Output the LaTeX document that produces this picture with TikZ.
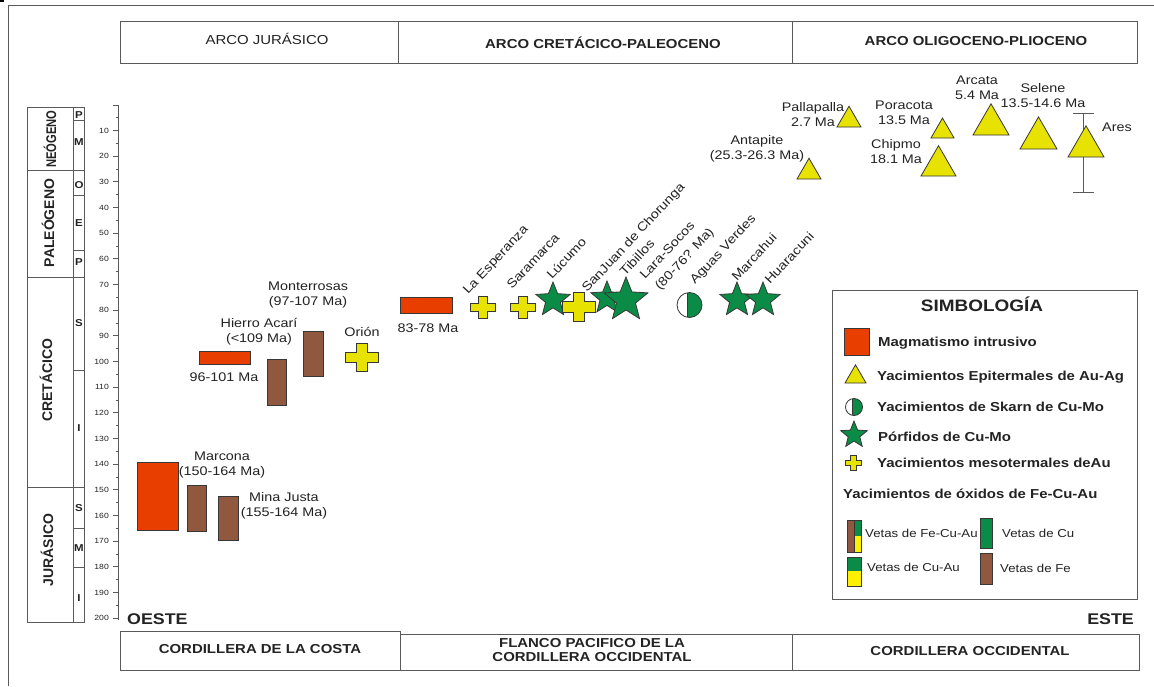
\documentclass[tikz,border=0pt]{standalone}
\usepackage{fontspec}
\setmainfont[FakeStretch=1.15]{Liberation Sans}
\newfontfamily\vertfont{Liberation Sans}
\newfontfamily\vertnarrow[FakeStretch=0.8]{Liberation Sans}
\usepackage{tikz}
\usetikzlibrary{shapes.geometric}
\usetikzlibrary{arrows.meta}
\usepackage{xcolor}

\definecolor{magred}{RGB}{232,62,0}
\definecolor{vetbrown}{RGB}{145,88,64}
\definecolor{epiyellow}{RGB}{232,226,0}
\definecolor{vetyellow}{RGB}{255,240,0}
\definecolor{porgreen}{RGB}{10,140,70}
\definecolor{edgegray}{RGB}{55,55,55}
\definecolor{framegray}{RGB}{90,90,90}
\definecolor{textgray}{RGB}{35,35,35}

\newcommand{\lblfont}{\fontsize{12.5}{15}\selectfont}
\newcommand{\cabfont}{\fontsize{13}{14}\selectfont}
\newcommand{\legfont}{\bfseries\fontsize{13}{15}\selectfont}
\newcommand{\vetfont}{\fontsize{11.5}{13}\selectfont}
\newcommand{\edadfont}{\fontsize{7.5}{9}\selectfont}
\newcommand{\perfont}{\bfseries\fontsize{14}{16}\selectfont}

\tikzset{
  borde/.style={draw=edgegray, line width=0.8pt},
  marco/.style={draw=framegray, line width=1pt},
  magma/.style={borde, fill=magred},
  vetafe/.style={borde, fill=vetbrown},
  epi/.style={regular polygon, regular polygon sides=3, borde, fill=epiyellow,
    inner sep=0pt, outer sep=0pt, anchor=south, minimum size=#1},
  porfido/.style={star, star points=5, star point ratio=2.3, borde, fill=porgreen,
    inner sep=0pt, outer sep=0pt, minimum size=#1},
  lbl/.style={text=textgray, font=\lblfont, align=center, inner sep=0pt},
  rotlbl/.style={text=textgray, font=\lblfont, inner sep=0pt, rotate=47, anchor=base west},
  cab/.style={text=textgray, inner sep=0pt, anchor=base, align=center},
  leyenda/.style={text=textgray, font=\legfont, inner sep=0pt, anchor=base west},
  veta/.style={text=textgray, font=\vetfont, inner sep=0pt, anchor=base west},
  escala/.style={text=textgray, font=\edadfont, inner sep=0pt, anchor=east},
  epoca/.style={text=textgray, font=\bfseries\fontsize{10}{11}\selectfont, inner sep=0pt},
  periodo/.style={text=textgray, inner sep=0pt, rotate=90},
  cruz/.pic={\draw[borde, fill=epiyellow] (-4.5,-11) -- (4.5,-11) -- (4.5,-4) -- (12.5,-4)
    -- (12.5,4) -- (4.5,4) -- (4.5,11) -- (-4.5,11) -- (-4.5,4) -- (-12.5,4) -- (-12.5,-4)
    -- (-4.5,-4) -- cycle;},
  skarn/.pic={\fill[porgreen] (0,0) circle (12.5pt);
    \begin{scope}
    \clip (-13,-13) rectangle (-2.5,13);
    \fill[white] (0,0) circle (12.5pt);
    \end{scope}
    \draw[borde] (-2.5,-12.2) -- (-2.5,12.2);
    \draw[borde] (0,0) circle (12.5pt);}
}

\begin{document}
\begin{tikzpicture}[x=1pt,y=-1pt]
\useasboundingbox (0,0) rectangle (1154,686);
\fill[white] (0,0) rectangle (1154,686);
% Drawing frame
\fill[black] (0,0) rectangle (4,2);
\draw[marco] (8,686) -- (8,5) -- (1154,5);
% Drawing header boxes
\draw[marco] (120,21) rectangle (1137,63);
\draw[marco] (398,21) -- (398,63);
\draw[marco] (792,21) -- (792,63);
\node[cab, font=\cabfont] (arcojur) at (267,44) {ARCO JURÁSICO};
\node[cab, font=\bfseries\cabfont] (arcocre) at (603,48) {ARCO CRETÁCICO-PALEOCENO};
\node[cab, font=\bfseries\cabfont] (arcooli) at (976,45) {ARCO OLIGOCENO-PLIOCENO};
% Drawing footer boxes
\draw[marco] (120,631) -- (400,631) -- (400,670) -- (120,670) -- cycle;
\draw[marco] (400,634) rectangle (1139,670);
\draw[marco] (792,634) -- (792,670);
\node[cab, font=\bfseries\cabfont] (costa) at (260,653) {CORDILLERA DE LA COSTA};
\node[text=textgray, inner sep=0pt, align=center, font=\bfseries\cabfont] (flanco) at (592,650) {FLANCO PACIFICO DE LA\\CORDILLERA OCCIDENTAL};
\node[cab, font=\bfseries\cabfont] (occidental) at (970,655) {CORDILLERA OCCIDENTAL};
\node[text=textgray, inner sep=0pt, anchor=base west, font=\bfseries\fontsize{15.5}{17}\selectfont] (oeste) at (127,624) {OESTE};
\node[text=textgray, inner sep=0pt, anchor=base east, font=\bfseries\fontsize{15.5}{17}\selectfont] (este) at (1134,624) {ESTE};
% Drawing time column
\draw[marco] (27,107) rectangle (84,622);
\draw[marco] (73,107) -- (73,622);
\draw[marco] (27,170) -- (84,170);
\draw[marco] (27,277) -- (84,277);
\draw[marco] (27,487) -- (84,487);
\foreach \yy in {120,195,250,370,528,567}
  \draw[marco] (73,\yy) -- (84,\yy);
\node[periodo, font=\vertnarrow\bfseries\fontsize{14}{16}\selectfont] (neogeno) at (50,139) {NEÓGENO};
\node[periodo, font=\vertfont\perfont] (paleogeno) at (48,223) {PALEÓGENO};
\node[periodo, font=\vertfont\perfont] (cretacico) at (46,380) {CRETÁCICO};
\node[periodo, font=\vertfont\perfont] (jurasico) at (47,550) {JURÁSICO};
\foreach \letra/\yy in {P/115,M/142,O/185,E/223,P/262,S/323,I/428,S/508,M/548,I/598}
  \node[epoca] (ep\yy) at (79,\yy) {\letra};
% Drawing age scale
\draw[marco] (118,105) -- (118,620);
\draw[marco] (113,105) -- (118,105);
\foreach \edad in {10,20,...,200}{
  \draw[marco] (113,{105+2.566*\edad}) -- (118,{105+2.566*\edad});
  \node[escala] (e\edad) at (109,{105+2.566*\edad}) {\edad};
}
\foreach \edad in {5,15,...,195}
  \draw[marco] (115.5,{105+2.566*\edad}) -- (118,{105+2.566*\edad});
% Drawing Jurassic arc
\draw[magma] (137,462) rectangle (178,530);
\draw[vetafe] (187,485) rectangle (206,531);
\draw[vetafe] (218,496) rectangle (238,540);
\node[lbl] (marcona) at (222,465) {Marcona\\(150-164 Ma)};
\node[lbl] (minajusta) at (284,506) {Mina Justa\\(155-164 Ma)};
% Drawing Cretaceous arc
\draw[magma] (199,351) rectangle (250,364);
\node[lbl] (m96101) at (224,377) {96-101 Ma};
\draw[vetafe] (267,359) rectangle (286,405);
\draw[vetafe] (303,331) rectangle (323,376);
\node[lbl] (acari) at (259,332) {Hierro Acarí\\(<109 Ma)};
\node[lbl] (monterrosas) at (308,295) {Monterrosas\\(97-107 Ma)};
\pic[scale=1.3] at (362,357.5) {cruz};
\node[lbl] (orion) at (362,332) {Orión};
\draw[magma] (400,297) rectangle (452,313);
\node[lbl] (m8378) at (428,328) {83-78 Ma};
\pic at (482.5,307.5) {cruz};
\pic at (523,307.5) {cruz};
\node[porfido=36pt] (lucumo) at (553,300) {};
\pic[scale=1.3] at (579,307) {cruz};
\node[porfido=34pt] (chorunga) at (607,298) {};
\node[porfido=46pt] (tibillos) at (626,300) {};
\pic at (689.5,305) {skarn};
\node[porfido=36pt] (marcahui) at (737,300) {};
\node[porfido=36pt] (huaracuni) at (763,300) {};
\node[rotlbl] (tesperanza) at (468,295) {La Esperanza};
\node[rotlbl] (tsaramarca) at (512,290) {Saramarca};
\node[rotlbl] (tlucumo) at (552,280) {Lúcumo};
\node[rotlbl] (tchorunga) at (587,293) {SanJuan de Chorunga};
\node[rotlbl] (ttibillos) at (625,277) {Tibillos};
\node[rotlbl] (tlara) at (645,280) {Lara-Socos};
\node[rotlbl] (tlaraedad) at (660,291) {(80-76? Ma)};
\node[rotlbl] (taguas) at (695,285) {Aguas Verdes};
\node[rotlbl] (tmarcahui) at (737,282) {Marcahui};
\node[rotlbl] (thuaracuni) at (770,285) {Huaracuni};
% Drawing Oligocene-Pliocene arc
\coordinate (arestop) at (1083,113);
\coordinate (aresbot) at (1083,193);
\draw[draw=framegray, line width=0.8pt, {Bar[width=21pt]}-{Bar[width=21pt]}] (arestop) -- (aresbot);
\node[epi=27.7pt] (antapite) at (809,179) {};
\node[epi=27.7pt] (pallapalla) at (849,127) {};
\node[epi=26.6pt] (poracota) at (942.5,138) {};
\node[epi=40.4pt] (chipmo) at (938.5,176) {};
\node[epi=41.6pt] (arcata) at (991,135) {};
\node[epi=42.7pt] (selene) at (1038.5,149) {};
\node[epi=41.6pt] (ares) at (1086,157) {};
\node[lbl] (tantapite) at (757,149) {Antapite\\(25.3-26.3 Ma)};
\node[lbl] (tpallapalla) at (813,115) {Pallapalla\\2.7 Ma};
\node[lbl] (tporacota) at (904,113) {Poracota\\13.5 Ma};
\node[lbl] (tchipmo) at (896,152) {Chipmo\\18.1 Ma};
\node[lbl] (tarcata) at (977,88) {Arcata\\5.4 Ma};
\node[lbl] (tselene) at (1043,96) {Selene\\13.5-14.6 Ma};
\node[lbl] (tares) at (1117,127) {Ares};
% Drawing legend
\draw[marco] (832,290) rectangle (1137,599);
\node[text=textgray, inner sep=0pt, anchor=base, font=\bfseries\fontsize{16.5}{18}\selectfont] (simbologia) at (982,311.5) {SIMBOLOGÍA};
\draw[magma] (844,328) rectangle (869,355);
\node[leyenda] (lmagma) at (878,346.5) {Magmatismo intrusivo};
\node[epi=24.2pt] (legepi) at (855.5,383) {};
\node[leyenda] (lepi) at (877,380.5) {Yacimientos Epitermales de Au-Ag};
\pic[scale=0.68] at (854,407) {skarn};
\node[leyenda] (lskarn) at (877,411) {Yacimientos de Skarn de Cu-Mo};
\node[porfido=28pt] (legpor) at (854,435) {};
\node[leyenda] (lporfido) at (878,441) {Pórfidos de Cu-Mo};
\pic[scale=0.65] at (853.5,463) {cruz};
\node[leyenda] (lmeso) at (877,467.5) {Yacimientos mesotermales deAu};
\node[leyenda] (loxidos) at (843,498.5) {Yacimientos de óxidos de Fe-Cu-Au};
\fill[vetbrown] (847,520) rectangle (854,552);
\fill[porgreen] (854,520) rectangle (861,536);
\fill[vetyellow] (854,536) rectangle (861,552);
\draw[borde] (847,520) rectangle (861,552);
\draw[borde] (854,520) -- (854,552);
\node[veta] (lfecuau) at (865,537) {Vetas de Fe-Cu-Au};
\fill[porgreen] (847,557) rectangle (861,571);
\fill[vetyellow] (847,571) rectangle (861,586);
\draw[borde] (847,557) rectangle (861,586);
\node[veta] (lcuau) at (867,571.5) {Vetas de Cu-Au};
\draw[borde, fill=porgreen] (980,518) rectangle (992,548);
\node[veta] (lcu) at (1002,537) {Vetas de Cu};
\draw[vetafe] (980,553) rectangle (992,584);
\node[veta] (lfe) at (1000,572.5) {Vetas de Fe};
\end{tikzpicture}
\end{document}
